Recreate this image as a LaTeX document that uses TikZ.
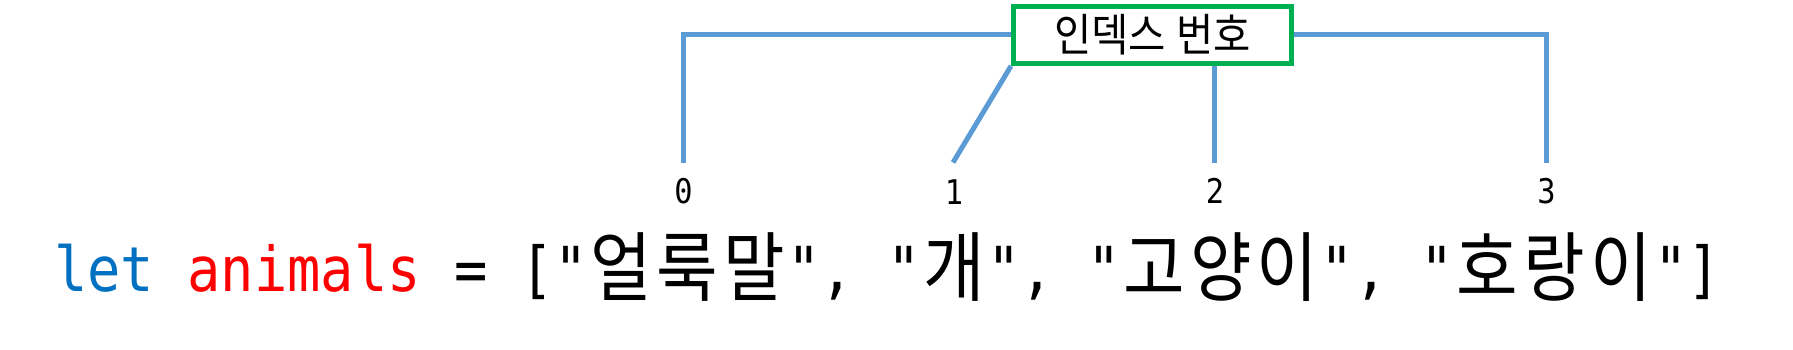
\documentclass[tikz,border=0pt]{standalone}
\usepackage{fontspec}
\newfontfamily\codefont[FakeStretch=0.893,Ligatures=TeXOff]{DejaVu Sans Mono}
\newfontfamily\kofont[FakeStretch=0.88]{Noto Sans CJK KR}
\newfontfamily\labfont[FakeStretch=0.9]{Noto Sans CJK KR}
\newcommand\hg[1]{\makebox[66.66pt][c]{\raisebox{-4.5pt}{\kofont\fontsize{76}{80}\selectfont #1}}}
\definecolor{kwblue}{HTML}{0070C0}
\definecolor{linkblue}{HTML}{5B9BD5}
\definecolor{boxgreen}{HTML}{00B050}
\tikzset{
  conn/.style={draw=linkblue, line width=5pt},
  labelbox/.style={draw=boxgreen, line width=5pt, fill=white, minimum width=278pt, minimum height=57pt, inner sep=0pt, font=\labfont\fontsize{45}{48}\selectfont},
  idx/.style={inner sep=0pt, font=\codefont\fontsize{34}{36}\selectfont},
  code/.style={inner sep=0pt, anchor=base west, font=\codefont\fontsize{62}{70}\selectfont}
}
\begin{document}
\begin{tikzpicture}[x=1pt,y=-1pt]
\useasboundingbox (0,0) rectangle (1793,350);
\node[labelbox] (box) at (1152.5,35) {\raisebox{-2pt}{인덱스\hspace{10pt}번호}};
\coordinate (e0) at (683.5,162.5);
\coordinate (e1) at (953,162.5);
\coordinate (e2) at (1214.5,162.5);
\coordinate (e3) at (1546.5,162.5);
\node[idx] (n0) at (683.5,191) {0};
\node[idx] (n1) at (954,192) {1};
\node[idx] (n2) at (1215,191) {2};
\node[idx] (n3) at (1546.5,191) {3};
\draw[conn] (box.west) -| (e0);
\draw[conn] (box.east) -| (e3);
\draw[conn] (box.south west) -- (e1);
\draw[conn] (e2|-box.south) -- (e2);
\node[code] (line) at (54,291) {\textcolor{kwblue}{let} \textcolor{red}{animals} = ["\hg{얼}\hg{룩}\hg{말}", "\hg{개}", "\hg{고}\hg{양}\hg{이}", "\hg{호}\hg{랑}\hg{이}"]};
\end{tikzpicture}
\end{document}
